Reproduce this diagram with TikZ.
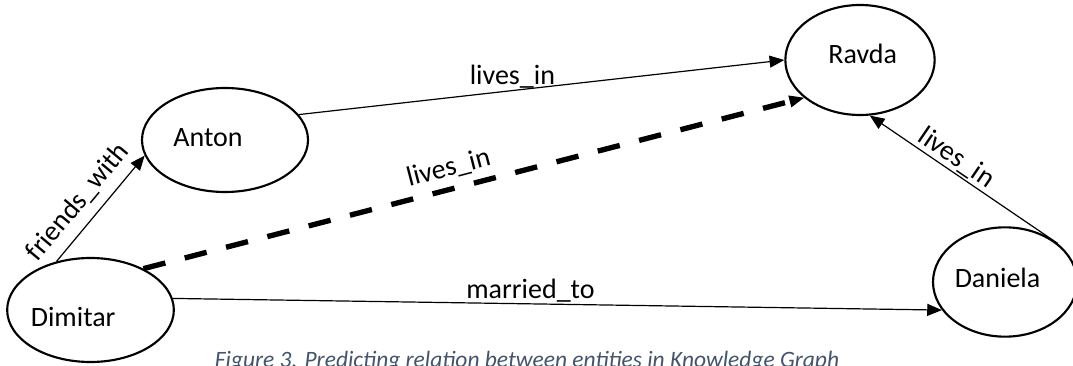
\documentclass[tikz,border=0pt]{standalone}
\usepackage{fontspec}
\setmainfont{Carlito}
\usetikzlibrary{shapes.geometric, arrows.meta}
\definecolor{captionblue}{RGB}{68,84,106}
\tikzset{
    entity/.style={ellipse, draw=black, line width=1.6pt, inner sep=0pt},
    entityname/.style={font=\fontsize{21}{25}\selectfont, inner sep=0pt},
    relation/.style={draw=black, line width=0.9pt, -{Triangle[length=11pt, width=9pt]}},
    predicted/.style={draw=black, line width=4pt, dash pattern=on 17pt off 15pt,
        -{Triangle[length=11pt, width=9pt, line width=0.9pt]}},
    rellabel/.style={font=\fontsize{21}{25}\selectfont, inner sep=1pt}
}
\begin{document}
\begin{tikzpicture}[x=0.75pt, y=-0.75pt]
    \useasboundingbox (0,0) rectangle (1073,366);
    % Entidades
    \node[entity, minimum width=125pt, minimum height=78pt,
        label={[entityname, xshift=-13pt, yshift=-5.6pt]center:Dimitar}] (dimitar) at (90.5,310) {};
    \node[entity, minimum width=124.5pt, minimum height=78pt,
        label={[entityname, xshift=-12.7pt, yshift=1.9pt]center:Anton}] (anton) at (225,140) {};
    \node[entity, minimum width=112pt, minimum height=82.5pt,
        label={[entityname, xshift=2pt, yshift=4.5pt]center:Ravda}] (ravda) at (860,60) {};
    \node[entity, minimum width=108pt, minimum height=82pt,
        label={[entityname, xshift=-5.6pt, yshift=3.4pt]center:Daniela}] (daniela) at (1005,282) {};
    % Relacoes
    \draw[relation] (dimitar.125.5) -- node[rellabel, sloped, above, pos=0.43, inner sep=7pt] {friends\_with} (anton.191.7);
    \draw[relation] (anton.19.1) -- node[rellabel, above, pos=0.44] {lives\_in} (ravda.180);
    \draw[relation] (daniela.36.3) -- node[rellabel, sloped, above, pos=0.58] {lives\_in} (ravda.280.9);
    \draw[relation] (dimitar.8.8) -- node[rellabel, above, pos=0.465] {married\_to} (daniela.204);
    % Relacao prevista
    \draw[predicted] (dimitar.38.2) -- node[rellabel, sloped, above, pos=0.47, inner sep=5pt] {lives\_in} (ravda.214.4);
    % Legenda
    \node[anchor=base, font=\fontsize{17.6}{21}\selectfont\itshape, text=captionblue, inner sep=0pt] (caption) at (527,367)
        {Figure 3. Predicting relation between entities in Knowledge Graph};
\end{tikzpicture}
\end{document}
